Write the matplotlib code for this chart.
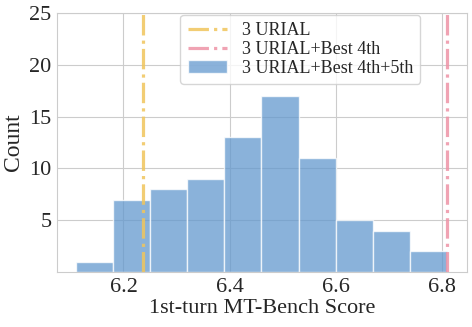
import matplotlib
matplotlib.use('Agg')
import matplotlib.pyplot as plt
import seaborn as sns

# histogram of 1st-turn MT-Bench scores
bin_edges = [6.11, 6.18, 6.25, 6.32, 6.39, 6.46, 6.53, 6.60, 6.67, 6.74, 6.81]
counts = [1, 7, 8, 9, 13, 17, 11, 5, 4, 2]
urial_score = 6.237
urial_best4_score = 6.81

labels = ['3 URIAL', '3 URIAL+Best 4th', '3 URIAL+Best 4th+5th']

sns.set_style('whitegrid')
plt.rcParams['font.family'] = ['Liberation Serif', 'DejaVu Serif']

fig, ax = plt.subplots(figsize=(4.72, 3.27), dpi=100)
fig.subplots_adjust(left=0.121, right=0.989, top=0.960, bottom=0.168)

ax.hist(bin_edges[:-1], bins=bin_edges, weights=counts, color='#6398ce',
        alpha=0.75, edgecolor='white', linewidth=1, label=labels[2], zorder=2)
ax.axvline(urial_score, color='#f0c55c', linestyle='-.', linewidth=2.3,
           alpha=0.85, label=labels[0], zorder=3)
ax.axvline(urial_best4_score, color='#ee93a6', linestyle='-.', linewidth=2.3,
           alpha=0.85, label=labels[1], zorder=3)

ax.set_xlim(6.075, 6.847)
ax.set_ylim(0, 25)
ax.set_xticks([6.2, 6.4, 6.6, 6.8])
ax.set_yticks([5, 10, 15, 20, 25])
ax.tick_params(labelsize=16, length=0, pad=4)
ax.set_xlabel('1st-turn MT-Bench Score', fontsize=16, labelpad=2)
ax.set_ylabel('Count', fontsize=17)

h, l = ax.get_legend_handles_labels()
order = [1, 2, 0]
ax.legend([h[i] for i in order], [l[i] for i in order], loc='upper center',
          bbox_to_anchor=(0.594, 1.0), borderaxespad=0.1, fontsize=13,
          handlelength=2.2, labelspacing=0.1)

plt.savefig('out.png', dpi=100)
